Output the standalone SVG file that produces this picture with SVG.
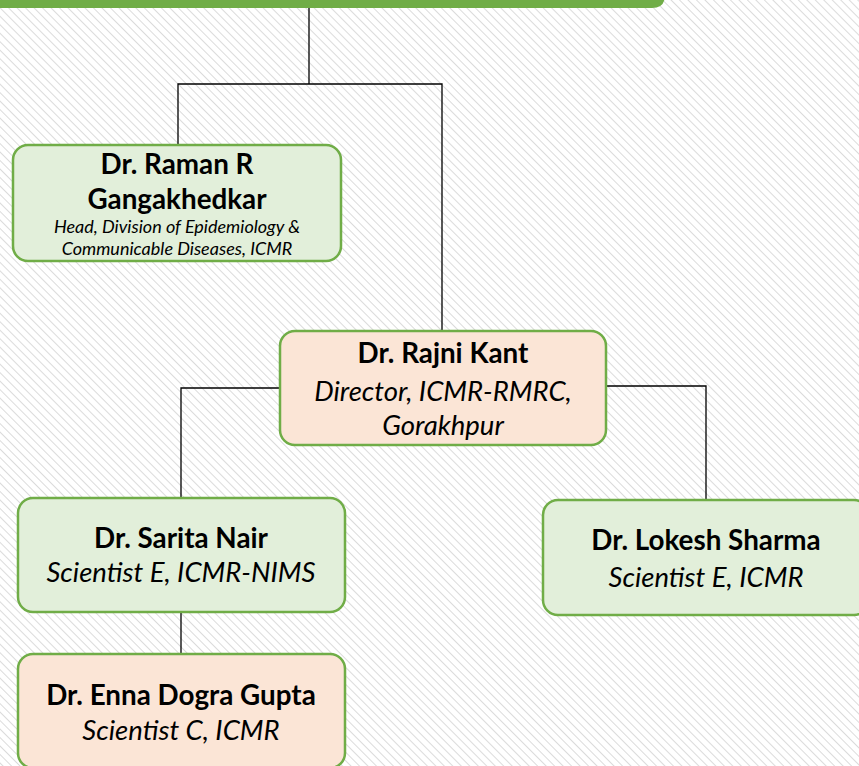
<svg xmlns="http://www.w3.org/2000/svg" width="859" height="766" viewBox="0 0 859 766">
<defs>
<pattern id="hatch" width="6" height="6" patternUnits="userSpaceOnUse" patternTransform="rotate(-45)">
<line x1="0" y1="0" x2="0" y2="6" stroke="#d2d2d2" stroke-width="1.6"/>
</pattern>
</defs>
<style>
.box{stroke:#70AD47;stroke-width:2.5}
.green{fill:#E2EFDA}
.peach{fill:#FBE5D6}
.conn{fill:none;stroke:#000;stroke-width:1.3}
text{font-family:Lato,"Open Sans",sans-serif;fill:#000;text-anchor:middle}
.name{font-weight:bold;font-size:27.8px}
.role{font-style:italic;font-size:27.5px}
.small{font-style:italic;font-size:18px}
</style>
<rect width="859" height="766" fill="#fff"/>
<rect width="859" height="766" fill="url(#hatch)"/>
<g id="top-node">
<path d="M0,-20 H665 V-5 Q665,8 652,8 H0 Z" fill="#70AD47"/>
</g>
<g id="connectors">
<path class="conn" d="M309,8 V84"/>
<path class="conn" d="M178,145 V84 H442 V331"/>
<path class="conn" d="M280,388 H181 V498"/>
<path class="conn" d="M606,386 H706 V500"/>
<path class="conn" d="M181,612 V654"/>
</g>
<g id="node-raman">
<rect class="box green" x="13" y="145" width="328" height="116" rx="15"/>
<text class="name" x="177" y="174">Dr. Raman R</text>
<text class="name" x="177" y="209">Gangakhedkar</text>
<text class="small" x="177" y="233">Head, Division of Epidemiology &amp;</text>
<text class="small" x="177" y="255">Communicable Diseases, ICMR</text>
</g>
<g id="node-rajni">
<rect class="box peach" x="280" y="331" width="326" height="114" rx="15"/>
<text class="name" x="443" y="363">Dr. Rajni Kant</text>
<text class="role" x="443" y="401">Director, ICMR-RMRC,</text>
<text class="role" x="443" y="435">Gorakhpur</text>
</g>
<g id="node-sarita">
<rect class="box green" x="18" y="498" width="327" height="114" rx="15"/>
<text class="name" x="181" y="548">Dr. Sarita Nair</text>
<text class="role" x="181" y="582">Scientist E, ICMR-NIMS</text>
</g>
<g id="node-lokesh">
<rect class="box green" x="543" y="500" width="326" height="115" rx="15"/>
<text class="name" x="706" y="550">Dr. Lokesh Sharma</text>
<text class="role" x="706" y="587">Scientist E, ICMR</text>
</g>
<g id="node-enna">
<rect class="box peach" x="18" y="654" width="327" height="114" rx="15"/>
<text class="name" x="181" y="705">Dr. Enna Dogra Gupta</text>
<text class="role" x="181" y="740">Scientist C, ICMR</text>
</g>
</svg>
